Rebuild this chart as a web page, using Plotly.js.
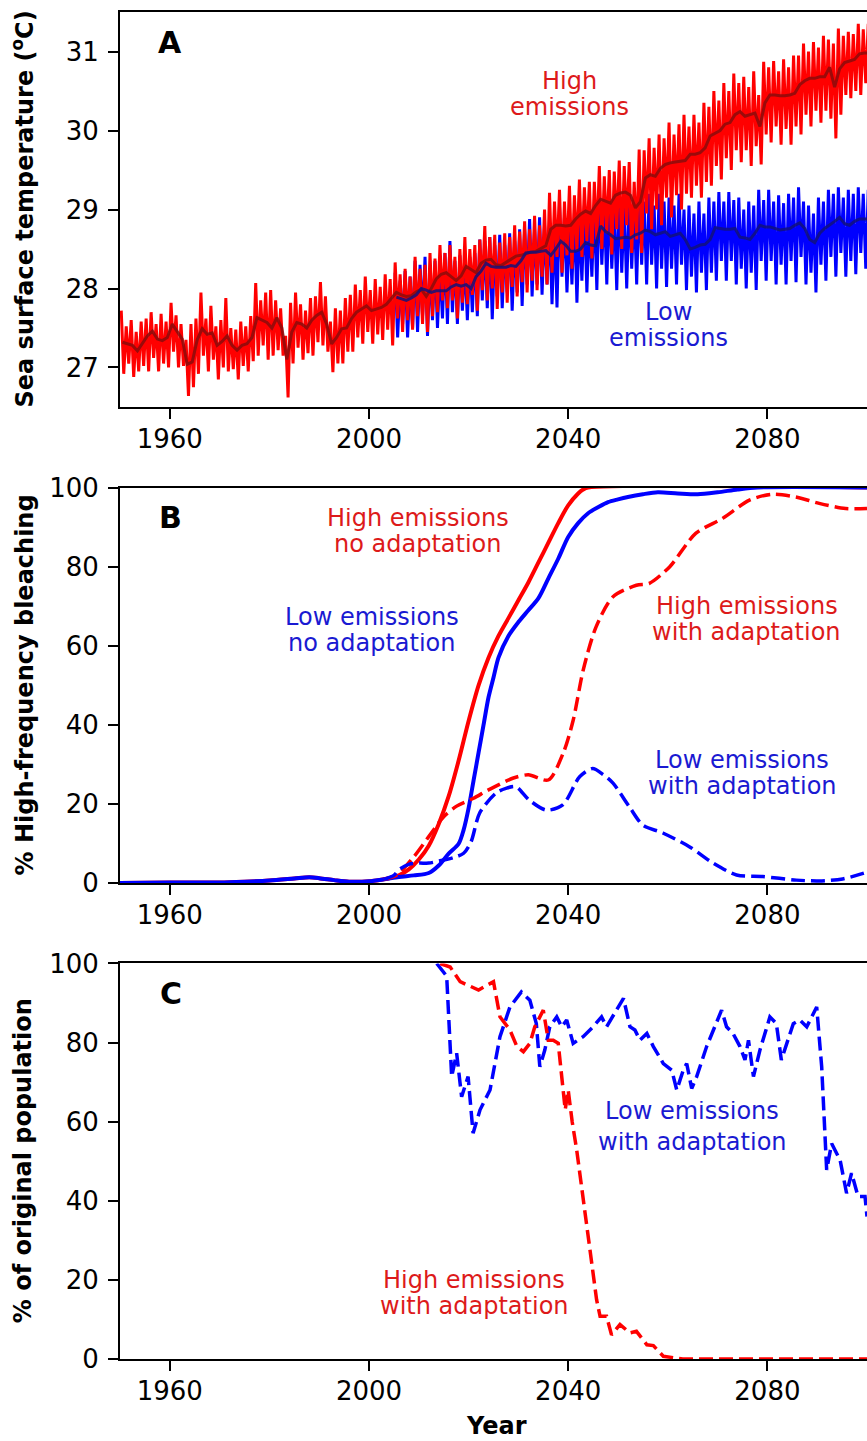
<!DOCTYPE html>
<html><head><meta charset="utf-8">
<script src="https://cdn.plot.ly/plotly-3.0.1.min.js"></script>
<style>html,body{margin:0;padding:0;background:#fff}#chart{width:867px;height:1441px}</style>
</head><body><div id="chart"></div>
<script>
// ---------- Panel A: sea surface temperature (yearly mean, seasonal max, seasonal min) ----------
const highStartYear = 1950;
const highSstMean = [27.32,27.30,27.28,27.21,27.30,27.40,27.46,27.36,27.34,27.38,
 27.55,27.45,27.36,27.04,27.07,27.35,27.49,27.42,27.44,27.28,
 27.33,27.40,27.28,27.22,27.28,27.30,27.38,27.63,27.60,27.57,
 27.50,27.63,27.50,27.10,27.45,27.57,27.55,27.50,27.60,27.66,
 27.70,27.55,27.30,27.38,27.49,27.50,27.62,27.70,27.74,27.78,
 27.72,27.74,27.76,27.80,27.88,27.95,27.92,27.90,27.91,27.96,
 27.99,27.90,28.00,28.12,28.18,28.20,28.15,28.10,28.16,28.28,
 28.24,28.20,28.32,28.36,28.37,28.30,28.29,28.33,28.38,28.41,
 28.42,28.44,28.46,28.47,28.50,28.54,28.75,28.80,28.80,28.79,
 28.80,28.88,28.94,28.98,28.95,29.05,29.13,29.10,29.08,29.18,
 29.21,29.22,29.18,29.02,29.10,29.40,29.44,29.42,29.52,29.57,
 29.59,29.60,29.61,29.62,29.70,29.70,29.72,29.78,29.93,29.97,
 30.00,30.08,30.10,30.20,30.24,30.18,30.20,30.22,30.05,30.35,
 30.45,30.45,30.44,30.44,30.45,30.47,30.58,30.63,30.66,30.66,
 30.68,30.68,30.80,30.55,30.78,30.86,30.88,30.90,30.97,30.98,
 30.98];
const highSstMax = [27.72,27.52,27.60,27.45,27.58,27.62,27.70,27.55,27.68,27.58,
 27.82,27.66,27.55,27.35,27.55,27.62,27.95,27.62,27.78,27.52,
 27.60,27.88,27.50,27.48,27.58,27.52,27.65,28.07,27.85,27.95,
 27.98,27.85,27.75,27.40,27.82,27.95,27.80,27.72,27.88,27.90,
 28.08,27.90,27.58,27.75,27.72,27.88,27.92,28.05,27.98,28.15,
 27.98,28.12,28.02,28.18,28.12,28.33,28.18,28.25,28.15,28.40,
 28.25,28.30,28.45,28.38,28.55,28.45,28.55,28.40,28.50,28.65,
 28.50,28.55,28.62,28.79,28.65,28.68,28.58,28.70,28.65,28.80,
 28.72,28.85,28.75,28.92,28.80,29.00,29.21,29.10,29.25,29.10,
 29.30,29.18,29.38,29.28,29.35,29.35,29.55,29.42,29.50,29.48,
 29.62,29.55,29.60,29.35,29.76,29.75,29.90,29.78,29.95,29.90,
 30.10,29.95,30.08,30.20,30.05,30.20,30.10,30.35,30.30,30.50,
 30.38,30.60,30.50,30.72,30.60,30.68,30.55,30.75,30.45,30.87,
 30.80,30.88,30.75,30.90,30.80,30.95,30.95,31.10,31.00,31.12,
 31.05,31.20,31.15,31.10,31.29,31.20,31.25,31.22,31.35,31.28,
 31.35];
const highSstMin = [26.92,27.05,26.88,26.95,27.02,26.95,27.12,26.95,27.05,27.00,
 27.20,27.00,27.02,26.64,26.75,26.92,27.15,26.95,27.10,26.85,
 27.00,26.95,26.98,26.85,27.02,26.95,27.08,27.15,27.28,27.10,
 27.15,27.22,27.15,26.62,27.05,27.25,27.10,27.18,27.15,27.32,
 27.28,27.20,26.94,27.05,27.05,27.20,27.20,27.38,27.30,27.45,
 27.30,27.42,27.35,27.48,27.28,27.62,27.45,27.60,27.48,27.65,
 27.55,27.45,27.65,27.70,27.85,27.75,27.85,27.62,27.82,27.80,
 27.92,27.72,27.98,27.85,28.00,27.74,27.95,27.82,28.02,27.90,
 28.08,27.95,28.10,27.98,28.15,28.05,28.20,28.40,28.20,28.42,
 28.25,28.48,28.40,28.60,28.38,28.62,28.50,28.70,28.43,28.75,
 28.50,28.80,28.45,28.62,28.45,28.95,28.75,29.00,28.80,29.15,
 28.90,29.18,29.00,29.20,29.15,29.30,29.15,29.35,29.30,29.55,
 29.38,29.65,29.50,29.75,29.60,29.75,29.55,29.80,29.57,29.95,
 29.85,30.05,29.82,30.02,29.82,30.05,29.95,30.20,30.05,30.25,
 30.10,30.25,30.15,29.90,30.20,30.45,30.41,30.50,30.45,30.60,
 30.45];

const lowStartYear = 2005;
const lowSstMean = [27.89,27.87,27.85,27.88,27.92,28.00,27.98,27.95,27.97,27.97,
 27.97,28.02,28.05,28.03,28.05,28.00,28.15,28.22,28.32,28.28,
 28.27,28.27,28.27,28.29,28.28,28.35,28.45,28.46,28.46,28.47,
 28.48,28.42,28.50,28.60,28.55,28.47,28.47,28.50,28.58,28.55,
 28.54,28.79,28.72,28.68,28.63,28.64,28.65,28.64,28.68,28.70,
 28.74,28.72,28.68,28.70,28.72,28.66,28.68,28.70,28.62,28.50,
 28.52,28.55,28.56,28.62,28.77,28.76,28.75,28.75,28.76,28.65,
 28.64,28.62,28.70,28.80,28.78,28.78,28.76,28.74,28.75,28.76,
 28.80,28.83,28.76,28.62,28.58,28.70,28.76,28.80,28.85,28.90,
 28.82,28.80,28.85,28.88,28.88,28.88];
const lowSstMax = [28.20,28.10,28.22,28.15,28.35,28.30,28.40,28.25,28.35,28.28,
 28.45,28.60,28.35,28.42,28.35,28.40,28.45,28.62,28.60,28.65,
 28.55,28.68,28.55,28.70,28.60,28.75,28.75,28.88,28.75,28.90,
 28.80,28.85,28.80,29.05,28.90,28.80,28.95,28.85,29.05,28.90,
 29.05,29.22,29.05,29.15,29.00,29.21,29.05,29.12,29.05,29.18,
 29.10,29.20,29.05,29.20,29.10,29.15,29.05,29.20,29.00,29.05,
 28.95,29.10,28.95,29.15,29.10,29.22,29.10,29.22,29.12,29.15,
 29.00,29.10,29.05,29.25,29.12,29.25,29.10,29.18,29.08,29.20,
 29.15,29.28,29.10,29.05,28.95,29.15,29.10,29.25,29.20,29.28,
 29.15,29.25,29.20,29.28,29.20,29.25];
const lowSstMin = [27.38,27.55,27.38,27.50,27.45,27.65,27.40,27.60,27.50,27.62,
 27.55,27.70,27.55,27.72,27.60,27.70,27.65,27.85,27.75,27.61,
 27.90,27.75,27.95,27.72,27.95,27.78,28.05,27.90,28.05,27.92,
 28.05,27.80,27.76,28.15,27.95,28.05,27.82,28.10,27.95,28.15,
 27.98,28.30,28.05,28.25,27.98,28.20,28.00,28.25,28.05,28.30,
 28.05,28.30,28.00,28.25,28.02,28.25,28.05,28.30,27.98,28.15,
 27.95,28.20,27.98,28.20,28.10,28.35,28.10,28.35,28.05,28.25,
 28.00,28.20,27.98,28.35,28.10,28.35,28.05,28.30,28.05,28.35,
 28.08,28.40,28.05,28.20,27.95,28.30,28.10,28.40,28.15,28.45,
 28.15,28.35,28.18,28.45,28.25,28.40];

// ---------- Panel B: % high-frequency bleaching ----------
const bHighNoAdaptYears = [1950,1960,1970,1975,1980,1985,1988,1990,1993,1996,2000,2003,2006,2008,2010,2012,2014,2016,2018,2020,2022,2024,2026,2028,2030,2032,2034,2036,2038,2040,2042,2043,2044,2100];
const bHighNoAdapt = [0.1,0.2,0.2,0.4,0.7,1.2,1.5,1.3,0.8,0.4,0.5,1.0,2.0,3.5,6,9.5,15,22,31,41,50,57,62.5,67,71.5,76,81,86,91,95.5,98.5,99.5,100,100];
const bLowNoAdaptYears = [1950,1960,1970,1975,1980,1985,1988,1990,1993,1996,2000,2003,2006,2009,2012,2014,2016,2018,2019,2020,2021,2022,2023,2024,2025,2026,2028,2030,2032,2034,2036,2038,2040,2042,2044,2046,2048,2050,2052,2055,2058,2062,2066,2070,2074,2078,2100];
const bLowNoAdapt = [0.1,0.2,0.2,0.4,0.7,1.2,1.5,1.3,0.8,0.4,0.5,1.0,1.6,2.0,2.6,4.5,7.5,10,13.5,19,26,33,40,47,52,57,62.5,66,69,72,77,82,87.5,91,93.5,95,96.3,97,97.6,98.3,98.8,98.5,98.3,98.8,99.5,100,100];
const bHighAdaptYears = [2003,2005.6,2009,2012,2015,2017.6,2021,2024,2029,2032,2036,2039,2041,2043,2045.6,2049,2053.7,2056.3,2060.4,2065.6,2071,2076.4,2081,2085.7,2090.4,2095.7,2100];
const bHighAdapt = [1.0,2.1,6.7,11.8,16.8,19.5,21.5,23.6,26.6,27.4,26.1,32.9,41.2,53.8,64.8,72.4,75.3,75.8,80,88.4,92.2,96.8,98.3,97.6,96,94.7,94.7];
const bLowAdaptYears = [2003,2005,2006,2008,2010,2012,2015,2017,2019,2020.5,2022.2,2025.5,2027.5,2029.5,2032.2,2035.6,2038.9,2042.3,2044.9,2047,2049,2052.3,2055,2059,2064.4,2069.1,2073.8,2079.1,2085.8,2090.4,2095.1,2100];
const bLowAdapt = [1.0,2.0,3.4,4.8,5.1,5.1,5.9,6.5,7.6,10.5,17.7,22.8,24,24.4,21,18.5,19.8,26.9,29,27.5,25.3,19.3,14.7,12.7,9.2,5.1,2.1,1.7,0.8,0.6,1.1,2.8];

// ---------- Panel C: % of original population ----------
const cLowAdaptYears = [2013.6,2015.6,2016.6,2017.6,2018.6,2019.9,2020.9,2022.3,2024.3,2026.3,2028.3,2030.6,2032.3,2033.6,2034.3,2035.3,2036.3,2037.7,2038.7,2039.7,2041.0,2043.0,2045.0,2046.7,2047.7,2049.4,2051.1,2052.4,2053.4,2054.4,2055.8,2057.1,2059.1,2060.8,2061.8,2063.1,2063.8,2064.8,2065.8,2067.8,2069.5,2070.8,2071.8,2073.1,2074.5,2075.5,2076.2,2077.2,2078.5,2080.5,2081.8,2082.8,2083.9,2085.2,2086.5,2087.9,2088.9,2089.9,2090.9,2091.9,2092.9,2094.6,2095.9,2096.9,2098.2,2099.6,2100];
const cLowAdapt = [100,96.8,71.4,77.3,66.3,71.4,57.1,63,68,81.5,89,92.8,90.7,84.8,73.9,78.1,84,86.5,84,85.7,79.8,81.5,84,86.5,84,87.4,91.2,84,83.2,80.6,82.3,79,74.7,73,68,73,74.7,68.4,71.4,79,84,88.2,84,82.3,79,75.6,80.6,71.4,78.1,86.5,84.8,75.6,79.8,84.8,85.7,84,86.5,89,73.9,47.8,54.5,50.3,41.9,47,41.1,41.1,36];
const cHighAdaptYears = [2014.3,2016.3,2018.3,2022,2025,2026.3,2028.3,2029.7,2031,2032.3,2033.3,2035,2036,2037,2038,2039,2039.4,2040,2040.8,2041.7,2043,2044.4,2045.7,2046.4,2047.7,2048.7,2050.4,2052.4,2053.7,2055.8,2057.1,2059.1,2061,2063,2100];
const cHighAdapt = [100,99.1,95.4,93.3,95.4,86.5,83.2,79,77.7,79.8,84,88.2,80.6,80.6,79.8,66.3,63,68,60,52.9,40.2,27.6,15,10.8,10.8,6.1,8.7,6.6,7,3.6,3.4,0.7,0.3,0,0];

const xTicks = [1960, 2000, 2040, 2080];

// ---------- build traces ----------
function years(start, n) { const a = []; for (let i = 0; i < n; i++) a.push(start + i + 0.5); return a; }
function seasonal(start, maxs, mins) {
  const x = [], y = [];
  for (let i = 0; i < maxs.length; i++) {
    x.push(start + i + 0.25, start + i + 0.75);
    y.push(maxs[i], mins[i]);
  }
  return {x, y};
}
const RED = '#ff0000', BLUE = '#0000ff';
const hs = seasonal(highStartYear, highSstMax, highSstMin);
const ls = seasonal(lowStartYear, lowSstMax, lowSstMin);
const dash = '14px,6px';

const traces = [
  {x: ls.x, y: ls.y, xaxis: 'x', yaxis: 'y', mode: 'lines', line: {color: BLUE, width: 3}, hoverinfo: 'skip'},
  {x: hs.x, y: hs.y, xaxis: 'x', yaxis: 'y', mode: 'lines', line: {color: RED, width: 3}, hoverinfo: 'skip'},
  {x: years(highStartYear, highSstMean.length), y: highSstMean, xaxis: 'x', yaxis: 'y', mode: 'lines', line: {color: '#8a0c0c', width: 3}, opacity: 0.85},
  {x: years(lowStartYear, lowSstMean.length), y: lowSstMean, xaxis: 'x', yaxis: 'y', mode: 'lines', line: {color: '#12127a', width: 3}, opacity: 0.85},

  {x: bHighNoAdaptYears, y: bHighNoAdapt, xaxis: 'x2', yaxis: 'y2', mode: 'lines', line: {color: RED, width: 4, shape: 'spline', smoothing: 0.8}},
  {x: bLowNoAdaptYears, y: bLowNoAdapt, xaxis: 'x2', yaxis: 'y2', mode: 'lines', line: {color: BLUE, width: 4, shape: 'spline', smoothing: 0.8}},
  {x: bHighAdaptYears, y: bHighAdapt, xaxis: 'x2', yaxis: 'y2', mode: 'lines', line: {color: RED, width: 3.5, dash: dash, shape: 'spline', smoothing: 0.8}},
  {x: bLowAdaptYears, y: bLowAdapt, xaxis: 'x2', yaxis: 'y2', mode: 'lines', line: {color: BLUE, width: 3.5, dash: dash, shape: 'spline', smoothing: 0.8}},

  {x: cLowAdaptYears, y: cLowAdapt, xaxis: 'x3', yaxis: 'y3', mode: 'lines', line: {color: BLUE, width: 3.5, dash: dash}},
  {x: cHighAdaptYears, y: cHighAdapt, xaxis: 'x3', yaxis: 'y3', mode: 'lines', line: {color: RED, width: 3.5, dash: dash}}
];

const FONT = 'DejaVu Sans, Verdana, sans-serif';
function xAxis(anchor) {
  return {anchor: anchor, domain: [0, 1], range: [1950, 2100], tickvals: xTicks, ticktext: xTicks.map(String),
    ticks: 'outside', ticklen: 10, tickwidth: 2, tickcolor: '#000', showline: true, linewidth: 2, linecolor: '#000',
    mirror: true, showgrid: false, zeroline: false, ticklabelstandoff: -2,
    tickfont: {family: FONT, size: 26, color: '#000'}};
}
function yAxis(anchor, domain, range, tickvals) {
  return {anchor: anchor, domain: domain, range: range, tickvals: tickvals,
    ticks: 'outside', ticklen: 10, tickwidth: 2, tickcolor: '#000', showline: true, linewidth: 2, linecolor: '#000',
    mirror: false, showgrid: false, zeroline: false, ticklabelstandoff: 4,
    tickfont: {family: FONT, size: 26, color: '#000'}};
}

const TR = '#dd1a1a', TB = '#1a1ad2';
// one text line per annotation; the box is 24 px tall so lines can sit close together as in the reference
function note(xref, yref, x, y, text, color) {
  return {xref: xref, yref: yref, x: x, y: y, text: text, showarrow: false, xanchor: 'center', yanchor: 'middle',
    height: 24, valign: 'bottom', font: {family: FONT, size: 24, color: color}};
}
function panelLabel(xref, yref, x, y, text) {
  return {xref: xref, yref: yref, x: x, y: y, text: text, showarrow: false, xanchor: 'center', yanchor: 'middle',
    font: {family: FONT, size: 30, color: '#000', weight: 'bold'}};
}
function yTitle(yref, xp, text) {
  return {xref: 'paper', yref: yref, x: xp, y: 0.5, text: text, showarrow: false, textangle: -90,
    xanchor: 'center', yanchor: 'middle', font: {family: FONT, size: 24, color: '#000', weight: 'bold'}};
}

const annotations = [
  panelLabel('x', 'y', 1960.1, 31.11, 'A'),
  panelLabel('x2', 'y2', 1960.2, 92.3, 'B'),
  panelLabel('x3', 'y3', 1960.2, 92.4, 'C'),
  note('x', 'y', 2040.2, 30.60, 'High', TR),
  note('x', 'y', 2040.2, 30.27, 'emissions', TR),
  note('x', 'y', 2060.2, 27.68, 'Low', TB),
  note('x', 'y', 2060.2, 27.35, 'emissions', TB),
  note('x2', 'y2', 2009.8, 91.87, 'High emissions', TR),
  note('x2', 'y2', 2009.8, 85.30, 'no adaptation', TR),
  note('x2', 'y2', 2000.6, 66.80, 'Low emissions', TB),
  note('x2', 'y2', 2000.6, 60.23, 'no adaptation', TB),
  note('x2', 'y2', 2075.9, 69.60, 'High emissions', TR),
  note('x2', 'y2', 2075.9, 63.03, 'with adaptation', TR),
  note('x2', 'y2', 2074.9, 30.70, 'Low emissions', TB),
  note('x2', 'y2', 2074.9, 24.13, 'with adaptation', TB),
  note('x3', 'y3', 2064.9, 62.3, 'Low emissions', TB),
  note('x3', 'y3', 2064.9, 54.4, 'with adaptation', TB),
  note('x3', 'y3', 2021.1, 19.48, 'High emissions', TR),
  note('x3', 'y3', 2021.1, 12.91, 'with adaptation', TR),
  yTitle('y domain', (23 - 120) / 747, 'Sea surface temperature (<sup>o</sup>C)'),
  yTitle('y2 domain', (25 - 120) / 747, '% High-frequency bleaching'),
  yTitle('y3 domain', (23 - 120) / 747, '% of original population'),
  {xref: 'paper', yref: 'paper', x: (497 - 120) / 747, y: (1359 - 1426) / 1347, text: 'Year', showarrow: false,
    xanchor: 'center', yanchor: 'middle', font: {family: FONT, size: 24, color: '#000', weight: 'bold'}}
];

const layout = {
  width: 867, height: 1441,
  margin: {l: 120, r: 0, t: 12, b: 82, pad: 0},
  paper_bgcolor: '#fff', plot_bgcolor: '#fff',
  showlegend: false,
  font: {family: FONT, color: '#000'},
  xaxis: xAxis('y'),
  xaxis2: xAxis('y2'),
  xaxis3: xAxis('y3'),
  yaxis: yAxis('x', [0.70676, 1], [26.5, 31.5], [27, 28, 29, 30, 31]),
  yaxis2: yAxis('x2', [0.35316, 0.64699], [0, 100], [0, 20, 40, 60, 80, 100]),
  yaxis3: yAxis('x3', [0, 0.29362], [0, 100], [0, 20, 40, 60, 80, 100]),
  annotations: annotations
};

Plotly.newPlot('chart', traces, layout, {displayModeBar: false, staticPlot: true});
</script>
</body></html>
